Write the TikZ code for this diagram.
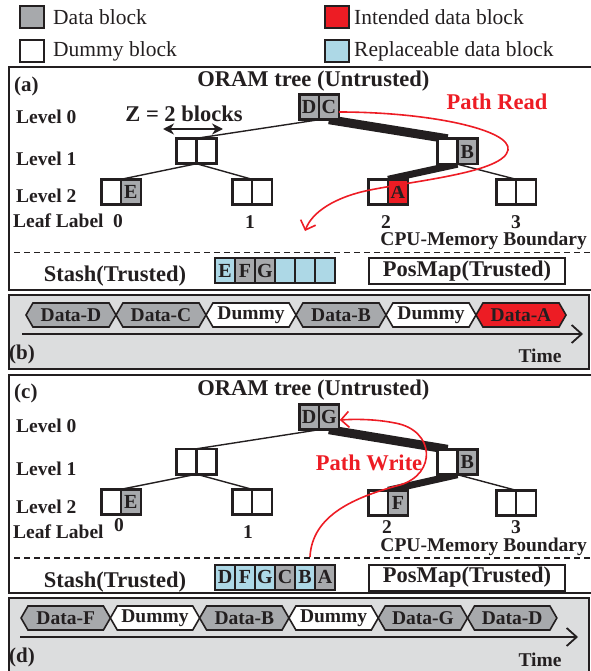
\documentclass[tikz,border=0pt]{standalone}
\usepackage{fontspec}
\setmainfont{Liberation Serif}
\usetikzlibrary{arrows.meta,shapes.symbols,calc}

\definecolor{ink}{HTML}{231F20}
\definecolor{blockgray}{HTML}{A7A9AC}
\definecolor{hotred}{HTML}{ED1C24}
\definecolor{paleblue}{HTML}{ADD8E6}
\definecolor{panelgray}{HTML}{DCDDDE}

\pgfdeclarelayer{panels}
\pgfdeclarelayer{edges}
\pgfsetlayers{panels,edges,main}

\begin{document}
\begin{tikzpicture}[x=1pt,y=-1pt,
  panel/.style={draw=ink,line width=2pt},
  blk/.style={draw=ink,line width=2.6pt,minimum width=19.8pt,minimum height=25.4pt,
    inner sep=0pt,outer sep=0pt,text=ink,font=\bfseries\fontsize{20}{22}\selectfont},
  gblk/.style={blk,fill=blockgray},
  wblk/.style={blk,fill=white},
  rblk/.style={blk,fill=hotred},
  sblk/.style={draw=ink,line width=2pt,minimum width=20pt,minimum height=25pt,
    inner sep=0pt,outer sep=0pt,text=ink,font=\bfseries\fontsize{20}{22}\selectfont},
  legbox/.style={draw=ink,line width=2.2pt,minimum width=24pt,minimum height=22pt,inner sep=0pt},
  legtext/.style={anchor=west,inner sep=0pt,text=ink,font=\fontsize{21.5}{24}\selectfont},
  title/.style={inner sep=0pt,text=ink,font=\bfseries\fontsize{22.5}{26}\selectfont},
  redtitle/.style={inner sep=0pt,text=hotred,font=\bfseries\fontsize{22.5}{26}\selectfont},
  tag/.style={anchor=west,inner sep=0pt,text=ink,font=\bfseries\fontsize{21}{24}\selectfont},
  lvl/.style={inner sep=0pt,text=ink,font=\bfseries\fontsize{19.5}{22}\selectfont},
  digit/.style={inner sep=0pt,text=ink,text height=12pt,text depth=0pt,
    font=\bfseries\fontsize{19.5}{22}\selectfont},
  posbox/.style={draw=ink,line width=2pt,minimum width=196pt,minimum height=26pt,inner sep=0pt,
    text=ink,font=\bfseries\fontsize{22.5}{26}\selectfont},
  hexa/.style={signal,signal to=west and east,signal pointer angle=120,draw=ink,line width=1.6pt,
    minimum width=#1,minimum height=24pt,inner sep=0pt,outer sep=0pt,text=ink,
    font=\bfseries\fontsize{19.5}{22}\selectfont},
  treeedge/.style={draw=ink,line width=1.4pt},
  pathedge/.style={draw=ink},
  redpath/.style={draw=hotred,line width=1.6pt,-{Straight Barb[length=8pt,width=16pt]}},
  boundary/.style={draw=ink,line width=1.8pt,dash pattern=on 6pt off 4pt},
  timeaxis/.style={draw=ink,line width=1.8pt,-{Straight Barb[length=10pt,width=18pt]}},
  zarrow/.style={draw=ink,line width=2.4pt,{Stealth[length=11pt,width=11pt]}-{Stealth[length=11pt,width=11pt]}}
]
\useasboundingbox (0,0) rectangle (590,671);

% ---------- legend ----------
\node[legbox,fill=blockgray] (lgData) at (32,17) {};
\node[legtext] (ltData) at (53,17) {Data block};
\node[legbox,fill=white] (lgDummy) at (32,51) {};
\node[legtext] (ltDummy) at (53,51) {Dummy block};
\node[legbox,fill=hotred] (lgRed) at (337,17) {};
\node[legtext] (ltRed) at (354,17) {Intended data block};
\node[legbox,fill=paleblue] (lgBlue) at (337,51) {};
\node[legtext] (ltBlue) at (354,51) {Replaceable data block};

% ---------- panel frames ----------
\begin{pgfonlayer}{panels}
\draw[panel] (9,67) rectangle (592,290);
\draw[panel,fill=panelgray] (9,295) rectangle (589,369);
\draw[panel] (9,375) rectangle (592,593);
\draw[panel,fill=panelgray] (9,598) rectangle (589,674);
\end{pgfonlayer}

% ================= (a) path read =================
\node[tag] (aTag) at (14,86) {(a)};
\node[title] (aTitle) at (313.5,81) {ORAM tree (Untrusted)};
\node[lvl,anchor=west] (aLv0) at (16,117) {Level 0};
\node[lvl,anchor=west] (aLv1) at (16,159) {Level 1};
\node[lvl,anchor=west] (aLv2) at (16,196) {Level 2};
\node[lvl,anchor=west] (aLeaf) at (13,221) {Leaf Label};
\node[digit] (aN0) at (118,221) {0};
\node[digit] (aN1) at (250,222) {1};
\node[digit] (aN2) at (386,222) {2};
\node[digit] (aN3) at (516,222) {3};

\node[title] (aZ) at (184,114) {Z = 2 blocks};
\coordinate (aZl) at (163,129);
\coordinate (aZr) at (223,129);
\draw[zarrow] (aZl) -- (aZr);

% buckets
\node[gblk] (aR1) at (309.1,107) {D};
\node[gblk] (aR2) at (328.9,107) {C};
\node[wblk] (aL1) at (186.6,151) {};
\node[wblk] (aL2) at (206.4,151) {};
\node[wblk] (aM1) at (447.6,151.5) {};
\node[gblk] (aM2) at (467.4,151.5) {B};
\node[wblk] (aP1) at (111.1,192) {};
\node[gblk] (aP2) at (130.9,192) {E};
\node[wblk] (aQ1) at (242.1,192) {};
\node[wblk] (aQ2) at (261.9,192) {};
\node[wblk] (aS1) at (378.1,192) {};
\node[rblk] (aS2) at (397.9,192) {A};
\node[wblk] (aT1) at (506.1,192) {};
\node[wblk] (aT2) at (525.9,192) {};

\begin{pgfonlayer}{edges}
\draw[treeedge] (aR1.south east) -- (aL1.north east);
\draw[treeedge] (aL1.south east) -- (aP1.north east);
\draw[treeedge] (aL1.south east) -- (aQ1.north east);
\draw[treeedge] (aM1.south east) -- (aT1.north east);
\draw[pathedge,line width=9pt] (aR2.south) -- (aM1.north);
\draw[pathedge,line width=7pt] (aM1.south east) -- (aS1.north east);
\end{pgfonlayer}

\node[redtitle] (aPR) at (497,102) {Path Read};
\coordinate (readEnd) at (305,231);
\draw[redpath] ($(aR2.east)+(0,5)$) .. controls (430,112) and (512,130) .. (508,150)
  .. controls (504,172) and (420,180) .. (370,190)
  .. controls (335,197) and (312,212) .. (readEnd);

\node[lvl,anchor=east] (aCPU) at (587,241) {CPU-Memory Boundary};
\coordinate (aDashL) at (14,252.5);
\coordinate (aDashR) at (592,252.5);
\draw[boundary] (aDashL) -- (aDashR);

\node[title] (aStash) at (115,276) {Stash(Trusted)};
\node[sblk,fill=paleblue] (aK1) at (225,270.5) {E};
\node[sblk,fill=blockgray] (aK2) at (245,270.5) {F};
\node[sblk,fill=blockgray] (aK3) at (265,270.5) {G};
\node[sblk,fill=paleblue] (aK4) at (285,270.5) {};
\node[sblk,fill=paleblue] (aK5) at (305,270.5) {};
\node[sblk,fill=paleblue] (aK6) at (325,270.5) {};
\node[posbox] (aPos) at (467,271) {PosMap(Trusted)};

% ================= (b) read trace =================
\node[hexa=90pt,fill=blockgray] (bH1) at (71,315) {Data-D};
\node[hexa=90pt,fill=blockgray] (bH2) at (161,315) {Data-C};
\node[hexa=90pt,fill=white] (bH3) at (251,315) {Dummy};
\node[hexa=90pt,fill=blockgray] (bH4) at (341,315) {Data-B};
\node[hexa=90pt,fill=white] (bH5) at (431,315) {Dummy};
\node[hexa=90pt,fill=hotred] (bH6) at (521,315) {Data-A};
\coordinate (bAxL) at (22,334);
\coordinate (bAxR) at (583,334);
\draw[timeaxis] (bAxL) -- (bAxR);
\node[tag] (bTag) at (9,354) {(b)};
\node[lvl] (bTime) at (540,356) {Time};

% ================= (c) path write =================
\node[tag] (cTag) at (14,393) {(c)};
\node[title] (cTitle) at (313.5,390) {ORAM tree (Untrusted)};
\node[lvl,anchor=west] (cLv0) at (16,426) {Level 0};
\node[lvl,anchor=west] (cLv1) at (16,469) {Level 1};
\node[lvl,anchor=west] (cLv2) at (16,507) {Level 2};
\node[lvl,anchor=west] (cLeaf) at (13,532) {Leaf Label};
\node[digit] (cN0) at (119,525) {0};
\node[digit] (cN1) at (248,532) {1};
\node[digit] (cN2) at (387,527) {2};
\node[digit] (cN3) at (516,527) {3};

\node[gblk] (cR1) at (309.1,417) {D};
\node[gblk] (cR2) at (328.9,417) {G};
\node[wblk] (cL1) at (186.6,461.5) {};
\node[wblk] (cL2) at (206.4,461.5) {};
\node[wblk] (cM1) at (447.6,462) {};
\node[gblk] (cM2) at (467.4,462) {B};
\node[wblk] (cP1) at (111.1,502) {};
\node[gblk] (cP2) at (130.9,502) {E};
\node[wblk] (cQ1) at (242.1,502) {};
\node[wblk] (cQ2) at (261.9,502) {};
\node[wblk] (cS1) at (378.1,503) {};
\node[gblk] (cS2) at (397.9,503) {F};
\node[wblk] (cT1) at (506.1,503) {};
\node[wblk] (cT2) at (525.9,503) {};

\begin{pgfonlayer}{edges}
\draw[treeedge] (cR1.south east) -- (cL1.north east);
\draw[treeedge] (cL1.south east) -- (cP1.north east);
\draw[treeedge] (cL1.south east) -- (cQ1.north east);
\draw[treeedge] (cM1.south east) -- (cT1.north east);
\draw[pathedge,line width=9pt] (cR2.south) -- (cM1.north);
\draw[pathedge,line width=7pt] (cM1.south east) -- (cS1.north east);
\end{pgfonlayer}

\node[redtitle] (cPW) at (369,463) {Path Write};
\coordinate (writeStart) at (310,557);
\draw[redpath] (writeStart) .. controls (312,515) and (355,497) .. (400,485)
  .. controls (437,474) and (435,430) .. (395,423)
  .. controls (375,419) and (355,419) .. ($(cR2.east)+(1,3)$);

\node[lvl,anchor=east] (cCPU) at (587,547) {CPU-Memory Boundary};
\coordinate (cDashL) at (14,558);
\coordinate (cDashR) at (592,558);
\draw[boundary] (cDashL) -- (cDashR);

\node[title] (cStash) at (115,582) {Stash(Trusted)};
\node[sblk,fill=paleblue] (cK1) at (225,577) {D};
\node[sblk,fill=paleblue] (cK2) at (245,577) {F};
\node[sblk,fill=paleblue] (cK3) at (265,577) {G};
\node[sblk,fill=blockgray] (cK4) at (285,577) {C};
\node[sblk,fill=paleblue] (cK5) at (305,577) {B};
\node[sblk,fill=blockgray] (cK6) at (325,577) {A};
\node[posbox] (cPos) at (467,577.5) {PosMap(Trusted)};

% ================= (d) write trace =================
\node[hexa=89.3pt,fill=blockgray] (dH1) at (65.7,618) {Data-F};
\node[hexa=89.3pt,fill=white] (dH2) at (155,618) {Dummy};
\node[hexa=89.3pt,fill=blockgray] (dH3) at (244.3,618) {Data-B};
\node[hexa=89.3pt,fill=white] (dH4) at (333.6,618) {Dummy};
\node[hexa=89.3pt,fill=blockgray] (dH5) at (422.9,618) {Data-G};
\node[hexa=89.3pt,fill=blockgray] (dH6) at (512.2,618) {Data-D};
\coordinate (dAxL) at (20,637);
\coordinate (dAxR) at (578,637);
\draw[timeaxis] (dAxL) -- (dAxR);
\node[tag] (dTag) at (9,657) {(d)};
\node[lvl] (dTime) at (540,660) {Time};
\end{tikzpicture}
\end{document}
